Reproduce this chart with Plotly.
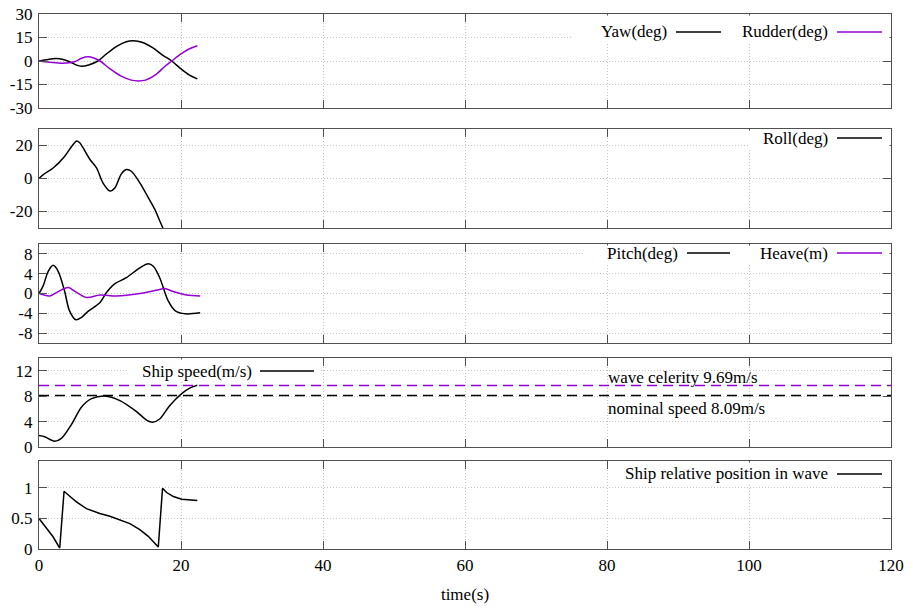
import plotly.graph_objects as go

# ---------------- data ----------------
yaw_t = [0, 1.0, 2.4, 3.4, 4.3, 5.2, 6.0, 7.0, 8.3, 9.5, 11.0, 12.3, 13.3, 14.5, 16.0, 17.5, 18.7, 20.0, 21.2, 22.3]
yaw_v = [0, 0.8, 1.6, 1.0, -0.5, -2.5, -3.4, -2.5, 0, 4.5, 9.5, 12.3, 12.9, 12.0, 8.5, 3.5, 0, -5.0, -9.0, -11.4]

rud_t = [0, 1.5, 3.4, 5.0, 6.0, 6.9, 7.8, 8.6, 10.0, 11.5, 13.0, 14.0, 15.0, 16.5, 17.7, 18.7, 20.0, 21.2, 22.3]
rud_v = [0, -0.8, -1.5, -0.5, 1.8, 2.7, 1.8, 0, -5.0, -9.5, -12.2, -12.7, -12.2, -8.5, -3.5, 0, 4.5, 7.8, 9.7]

roll_t = [0, 0.6, 2.0, 3.6, 4.6, 5.3, 5.7, 6.5, 7.2, 8.1, 9.0, 10.0, 10.7, 11.6, 12.3, 13.0, 14.2, 15.4, 16.3, 17.0, 17.5, 18.0]
roll_v = [0, 2.4, 6.4, 13.4, 19.4, 22.8, 21.8, 16.5, 11.4, 6.4, -2.6, -7.6, -5.6, 2.8, 5.4, 4.4, -2.6, -11.6, -18.6, -25.6, -30.6, -36.0]

pitch_t = [0, 0.6, 1.3, 2.0, 2.7, 3.6, 4.3, 5.2, 6.0, 6.9, 8.6, 9.5, 10.7, 12.3, 14.2, 15.4, 16.1, 17.0, 18.2, 19.2, 20.6, 22.7]
pitch_v = [0, 1.6, 4.5, 5.7, 4.5, 0.5, -3.5, -5.3, -4.8, -3.6, -1.8, 0.2, 2.0, 3.2, 5.2, 6.0, 5.5, 3.2, -1.5, -3.5, -4.1, -3.9]

heave_t = [0, 1.5, 2.7, 4.1, 5.0, 6.7, 8.6, 10.9, 14.2, 16.6, 17.7, 18.9, 20.8, 22.7]
heave_v = [0, -0.5, 0.4, 1.2, 0.5, -0.8, -0.3, -0.5, 0.0, 0.7, 1.0, 0.4, -0.3, -0.5]

speed_t = [0, 0.8, 2.2, 3.2, 4.6, 6.0, 7.4, 9.5, 11.4, 13.7, 15.2, 16.0, 17.0, 18.4, 20.1, 21.3, 22.3]
speed_v = [1.8, 1.6, 0.9, 1.4, 3.6, 6.3, 7.6, 8.0, 7.3, 5.6, 4.2, 3.9, 4.4, 6.5, 8.4, 9.3, 9.7]

wave_celerity = 9.69
nominal_speed = 8.09
ref_t = [0, 120]

pos_t = [0, 1.04, 1.98, 2.92, 3.53, 4.33, 5.27, 6.68, 8.56, 9.98, 11.39, 12.8, 14.2, 15.39, 16.8,
         17.4, 17.98, 18.92, 20.1, 22.3]
pos_v = [0.5, 0.35, 0.2, 0.016, 0.945, 0.863, 0.77, 0.66, 0.58, 0.536, 0.48, 0.415, 0.317, 0.208, 0.033,
         0.995, 0.924, 0.858, 0.814, 0.792]

x_ticks = [0, 20, 40, 60, 80, 100, 120]
y1_ticks = [30, 15, 0, -15, -30]
y1_text = ["30", "15", "0", "-15", "-30"]
y2_ticks = [20, 0, -20]
y2_text = ["20", "0", "-20"]
y3_ticks = [8, 4, 0, -4, -8]
y3_text = ["8", "4", "0", "-4", "-8"]
y4_ticks = [12, 8, 4, 0]
y4_text = ["12", "8", "4", "0"]
y5_ticks = [1, 0.5, 0]
y5_text = ["1", "0.5", "0"]

# ---------------- style ----------------
FONT = "Liberation Serif, Times New Roman, serif"
FS = 17
BLACK = "#000000"
PURPLE = "#9400d3"
FRAME = "#505050"
GRID = "#c4c4c4"
LW = 1.5

fig = go.Figure()

def add(t, v, axis, color, shape="spline", dash="solid"):
    fig.add_trace(go.Scatter(x=t, y=v, xaxis="x" + axis, yaxis="y" + axis, mode="lines",
                             line=dict(color=color, width=LW, shape=shape, dash=dash, smoothing=0.9),
                             showlegend=False, hoverinfo="skip"))

add(yaw_t, yaw_v, "", BLACK)
add(rud_t, rud_v, "", PURPLE)
add(roll_t, roll_v, "2", BLACK)
add(pitch_t, pitch_v, "3", BLACK)
add(heave_t, heave_v, "3", PURPLE)
add(ref_t, [wave_celerity, wave_celerity], "4", PURPLE, shape="linear", dash="10px,6px")
add(ref_t, [nominal_speed, nominal_speed], "4", BLACK, shape="linear", dash="10px,6px")
add(speed_t, speed_v, "4", BLACK)
add(pos_t, pos_v, "5", BLACK, shape="linear")

domains = [[0.8243, 1.0], [0.60, 0.7850], [0.385, 0.570], [0.1907, 0.357], [0.0, 0.1645]]
ranges = [[-30, 30], [-30, 30], [-10, 10], [0, 14], [0, 1.44]]
yt = [(y1_ticks, y1_text), (y2_ticks, y2_text), (y3_ticks, y3_text), (y4_ticks, y4_text), (y5_ticks, y5_text)]

axfont = dict(family=FONT, size=FS, color=BLACK)
common = dict(showline=True, linecolor=FRAME, linewidth=1.3, mirror="ticks", ticks="inside",
              ticklen=8, tickcolor=FRAME, showgrid=True, gridcolor=GRID, griddash="1px,2px",
              gridwidth=1, zeroline=False, tickfont=axfont, automargin=False)

lay = {}
for i in range(5):
    s = "" if i == 0 else str(i + 1)
    xa = dict(common, domain=[0, 1], range=[0, 120], tickvals=x_ticks,
              ticktext=[str(v) for v in x_ticks], anchor="y" + s,
              showticklabels=(i == 4))
    if i > 0:
        xa["matches"] = "x"
    if i == 4:
        xa["title"] = dict(text="time(s)", font=axfont, standoff=14)
    ya = dict(common, domain=domains[i], range=ranges[i], tickvals=yt[i][0], ticktext=yt[i][1],
              anchor="x" + s, ticklabelstandoff=2)
    lay["xaxis" + s] = xa
    lay["yaxis" + s] = ya

fig.update_layout(**lay)

PW = 852.0
def px(p):
    return (p - 39) / PW

# opaque key boxes (cover gridlines), drawn above but inset from the frame
boxes = [("", 572, 889.5, 15.5, 43, 14, 108),
         ("2", 748, 889.5, 130.5, 148, 129, 228),
         ("3", 585, 889.5, 245.5, 263, 244, 343),
         ("4", 127, 320, 359.5, 382, 358, 447),
         ("5", 610, 889.5, 462.5, 483, 461, 549)]
shapes = []
for s, x0, x1, y0, y1, top, bot in boxes:
    h = bot - top
    shapes.append(dict(type="rect", xref="x" + s + " domain", yref="y" + s + " domain",
                       x0=px(x0), x1=px(x1), y0=(bot - y1) / h, y1=(bot - y0) / h,
                       fillcolor="white", line=dict(width=0), layer="above"))

# legend entries: (axis, text, text right px, line x0, line x1, y px, top, bottom, color)
keys = [("", "Yaw(deg)", 668, 676, 721, 32, 14, 108, BLACK),
        ("", "Rudder(deg)", 829, 837, 882, 32, 14, 108, PURPLE),
        ("2", "Roll(deg)", 829, 837, 882, 138, 129, 228, BLACK),
        ("3", "Pitch(deg)", 679, 687, 730, 253, 244, 343, BLACK),
        ("3", "Heave(m)", 829, 837, 882, 253, 244, 343, PURPLE),
        ("4", "Ship speed(m/s)", 253, 260, 314, 371, 358, 447, BLACK),
        ("5", "Ship relative position in wave", 829, 837, 882, 474, 461, 549, BLACK)]
annots = []
for s, txt, xr, lx0, lx1, ypx, top, bot, col in keys:
    yf = (bot - ypx) / (bot - top)
    annots.append(dict(text=txt, xref="x" + s + " domain", yref="y" + s + " domain",
                       x=px(xr), y=yf, xanchor="right", yanchor="middle", showarrow=False,
                       font=axfont, borderpad=0))
    shapes.append(dict(type="line", xref="x" + s + " domain", yref="y" + s + " domain",
                       x0=px(lx0), x1=px(lx1), y0=yf, y1=yf, line=dict(color=col, width=LW),
                       layer="above"))

annots.append(dict(text="wave celerity " + f"{wave_celerity}m/s", xref="x4", yref="y4", x=80, y=11.0,
                   xanchor="left", yanchor="middle", showarrow=False, font=axfont, borderpad=0))
annots.append(dict(text="nominal speed " + f"{nominal_speed}m/s", xref="x4", yref="y4", x=80, y=6.0,
                   xanchor="left", yanchor="middle", showarrow=False, font=axfont, borderpad=0))

fig.update_layout(width=913, height=608, margin=dict(l=39, r=22, t=14, b=59, autoexpand=False),
                  paper_bgcolor="white", plot_bgcolor="white", showlegend=False,
                  font=axfont, shapes=shapes, annotations=annots)

fig.write_html("out.html")
